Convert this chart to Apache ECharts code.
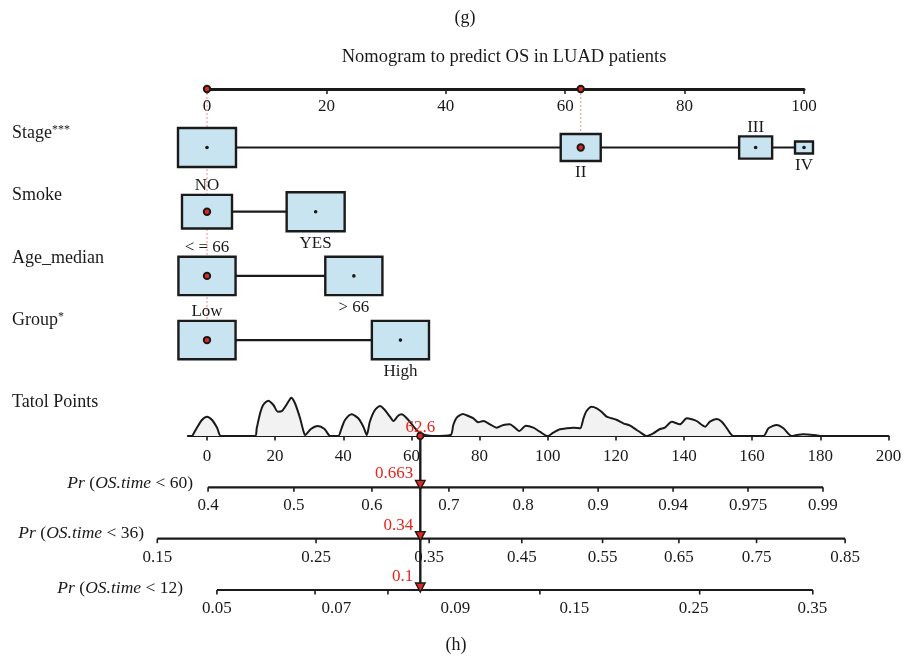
<!DOCTYPE html>
<html>
<head>
<meta charset="utf-8">
<script src="https://cdn.jsdelivr.net/npm/echarts@6.0.0/dist/echarts.min.js"></script>
<style>
html,body{margin:0;padding:0;background:#ffffff;}
#chart{width:905px;height:663px;}
</style>
</head>
<body>
<div id="chart"></div>
<script>
// ---------------- data ----------------
const pointTicks = [0, 20, 40, 60, 80, 100];

const stageLevels = ['I', 'II', 'III', 'IV'];
const stagePoints = [0, 62.6, 91.9, 100];
const stageFreq = [1, 0.476, 0.324, 0.096];

const smokeLevels = ['NO', 'YES'];
const smokePoints = [0, 18.2];
const smokeFreq = [0.743, 1];

const ageLevels = ['< = 66', '> 66'];
const agePoints = [0, 24.6];
const ageFreq = [0.97, 0.97];

const groupLevels = ['Low', 'High'];
const groupPoints = [0, 32.4];
const groupFreq = [0.97, 0.97];

const selectedLevels = ['II', 'NO', '< = 66', 'Low'];
const unlabeledLevels = ['I'];

const totalTicks = [0, 20, 40, 60, 80, 100, 120, 140, 160, 180, 200];
const densityPoints = [-4.3, -3, -1.5, 0, 1.5, 3, 4.1, 14.1, 14.6, 15.6, 16.5, 18, 19.5, 20.8, 22.0, 24.2, 24.7, 25.8, 27.3, 28.3, 28.8,
  30.5, 32.5, 34.5, 36.2, 38.5, 39.5, 40.5, 42.5, 44.4, 45.9, 46.9, 47.8, 49.3, 50.8, 52.2, 53.7, 54.7, 56.1, 57.1, 59.1, 61.1, 62.5, 64, 66.3,
  71.5, 72.3, 73.3, 75.1, 76.7, 78.2, 79.6, 81.1, 83.1, 85.0, 87.0, 88.9, 90.4, 91.7, 93.6, 95.8, 97.7, 100,
  101.6, 103.6, 105.6, 107.5, 109.5, 110.5, 111.4, 112.9, 114.4, 115.8, 117.3, 118.8, 120.3, 122.2, 124.2, 126.1, 127.6, 128.9,
  131, 133, 134.4, 136.4, 138.8, 140.8, 142.3, 143.7, 146.2, 147.6, 149.6, 151.1, 152.6, 154.5,
  163.3, 164.8, 167.2, 169.2, 171.6, 173.1, 175, 178, 179.9];
const densityHeights = [0, 8, 16, 19.3, 16, 8, 0, 0, 7.7, 22.7, 31, 35.3, 31, 24.3, 25, 36, 38.3, 33, 18, 5, 1,
  7, 10, 7, 0, 0, 7.7, 16, 21.7, 17.7, 9.3, 1, 14.3, 26, 30, 26, 19.3, 15, 20.3, 21.7, 16, 7.7, 3, 1, 0,
  1, 11, 18.3, 22, 20, 17.7, 13.7, 15, 11.7, 8.3, 11, 11.7, 8.3, 5, 10.3, 8.3, 4.3, 0,
  3.3, 6.7, 7.7, 8.3, 7.7, 17.7, 25, 29.3, 27.7, 24.3, 19.3, 17.7, 16, 12.7, 10.3, 6, 2.7, 0,
  2.7, 7, 8.3, 14.3, 11.7, 17.7, 16.7, 15, 9.3, 14.3, 17, 14.3, 7.7, 0,
  0, 7.7, 11, 7.7, 0, 1, 1.7, 1, 0];

const totalScore = 62.6;

const pr60Labels = ['0.4', '0.5', '0.6', '0.7', '0.8', '0.9', '0.94', '0.975', '0.99'];
const pr60Points = [0.3, 25.5, 48.4, 71.0, 92.8, 114.8, 136.8, 158.8, 180.8];

const pr36Labels = ['0.15', '0.25', '0.35', '0.45', '0.55', '0.65', '0.75', '0.85'];
const pr36Points = [-14.6, 32.0, 65.2, 92.4, 116.1, 138.5, 161.3, 187.3];

const pr12Labels = ['0.05', '0.07', '0.09', '0.15', '0.25', '0.35'];
const pr12TickPoints = [2.9, 31.7, 53.1, 97.7, 144.6, 177.8];
const pr12LabelPoints = [2.9, 38.0, 72.9, 107.8, 142.8, 177.7];

const predictedLabels = ['0.663', '0.34', '0.1'];

// ---------------- styling constants ----------------
const FF = '"Liberation Serif", "DejaVu Serif", serif';
const INK = '#1a1a1a';
const RED = '#e3271f';
const BOX_FILL = '#c8e4f0';
const BOX_W = 58, BOX_H = 39;
const A_YMIN = -0.911, A_YMAX = 3.6;

function font(sz, style) { return (style || '') + ' ' + sz + 'px ' + FF; }

const series = [];

// ---------- category rows (grid 0) ----------
function catSeries(levels, points, freq, row) {
  series.push({
    type: 'line', xAxisIndex: 0, yAxisIndex: 0, silent: true, z: 2,
    data: [[Math.min(...points), row], [Math.max(...points), row]],
    symbol: 'none', lineStyle: { color: INK, width: 2.2 }
  });
  series.push({
    type: 'custom', xAxisIndex: 0, yAxisIndex: 0, silent: true, z: 3,
    data: points.map(p => [p, row]),
    renderItem(params, api) {
      const i = params.dataIndex;
      const c = api.coord([api.value(0), api.value(1)]);
      const s = Math.sqrt(freq[i]);
      const w = BOX_W * s, h = BOX_H * s;
      const ch = [{
        type: 'rect', shape: { x: c[0] - w / 2, y: c[1] - h / 2, width: w, height: h },
        style: { fill: BOX_FILL, stroke: INK, lineWidth: 2.4 }
      }];
      if (selectedLevels.includes(levels[i])) {
        ch.push({ type: 'circle', shape: { cx: c[0], cy: c[1], r: 3.2 }, style: { fill: RED, stroke: INK, lineWidth: 2 }, z2: 5 });
      } else {
        ch.push({ type: 'circle', shape: { cx: c[0], cy: c[1], r: 1.8 }, style: { fill: INK } });
      }
      if (!unlabeledLevels.includes(levels[i])) {
        const above = i % 2 === 0;
        ch.push({
          type: 'text', x: c[0], y: above ? c[1] - h / 2 - 9 : c[1] + h / 2 + 12,
          style: { text: levels[i], align: 'center', verticalAlign: 'middle', font: font(17), fill: INK }
        });
      }
      return { type: 'group', children: ch };
    }
  });
}
catSeries(stageLevels, stagePoints, stageFreq, 0);
catSeries(smokeLevels, smokePoints, smokeFreq, 1);
catSeries(ageLevels, agePoints, ageFreq, 2);
catSeries(groupLevels, groupPoints, groupFreq, 3);

// selected points on top axis with dotted guide lines
const allLevels = [stageLevels, smokeLevels, ageLevels, groupLevels];
const allPoints = [stagePoints, smokePoints, agePoints, groupPoints];
const guide = {};
allLevels.forEach((lv, r) => {
  lv.forEach((l, i) => {
    if (selectedLevels.includes(l)) {
      const p = allPoints[r][i];
      guide[p] = Math.max(guide[p] === undefined ? -1 : guide[p], r);
    }
  });
});
series.push({
  type: 'custom', xAxisIndex: 0, yAxisIndex: 0, silent: true, z: 1,
  data: Object.keys(guide).map(k => [Number(k), guide[k]]),
  renderItem(params, api) {
    const t = api.coord([api.value(0), A_YMIN]);
    const b = api.coord([api.value(0), api.value(1)]);
    return { type: 'line', shape: { x1: t[0], y1: t[1], x2: b[0], y2: b[1] }, style: { stroke: '#f3a3a3', lineWidth: 1.2, lineDash: [2, 2] } };
  }
});
series.push({
  type: 'custom', xAxisIndex: 0, yAxisIndex: 0, silent: true, z: 6,
  data: Object.keys(guide).map(k => [Number(k), A_YMIN]),
  renderItem(params, api) {
    const t = api.coord([api.value(0), api.value(1)]);
    return { type: 'circle', shape: { cx: t[0], cy: t[1], r: 3.2 }, style: { fill: RED, stroke: INK, lineWidth: 2 } };
  }
});

// ---------- density (grid 1) ----------
series.push({
  type: 'line', xAxisIndex: 1, yAxisIndex: 1, silent: true, z: 2,
  data: densityPoints.map((p, i) => [p, densityHeights[i]]),
  smooth: 0.25, symbol: 'none',
  lineStyle: { color: INK, width: 2 },
  areaStyle: { color: '#f2f2f2', opacity: 1 }
});

// ---------- probability axes (grid 2) ----------
function probAxis(tickPts, labelPts, labels, row) {
  series.push({
    type: 'line', xAxisIndex: 2, yAxisIndex: 2, silent: true, z: 2,
    data: [[tickPts[0], row], [tickPts[tickPts.length - 1], row]],
    symbol: 'none', lineStyle: { color: INK, width: 2.2 }
  });
  series.push({
    type: 'custom', xAxisIndex: 2, yAxisIndex: 2, silent: true, z: 2,
    data: tickPts.map((p, i) => [p, row, labelPts[i]]),
    renderItem(params, api) {
      const i = params.dataIndex;
      const c = api.coord([api.value(0), api.value(1)]);
      const lc = api.coord([api.value(2), api.value(1)]);
      return {
        type: 'group', children: [
          { type: 'line', shape: { x1: c[0], y1: c[1], x2: c[0], y2: c[1] + 4.5 }, style: { stroke: INK, lineWidth: 1.6 } },
          { type: 'text', x: lc[0], y: lc[1] + 18.5, style: { text: labels[i], align: 'center', verticalAlign: 'middle', font: font(17), fill: INK } }
        ]
      };
    }
  });
}
probAxis(pr60Points, pr60Points, pr60Labels, 0);
probAxis(pr36Points, pr36Points, pr36Labels, 1);
probAxis(pr12TickPoints, pr12LabelPoints, pr12Labels, 2);

// prediction marker
series.push({
  type: 'custom', xAxisIndex: 2, yAxisIndex: 2, silent: true, z: 8,
  data: [[totalScore, -1]],
  renderItem(params, api) {
    const v = api.value(0);
    const t = api.coord([v, -1]);
    const b = api.coord([v, 2]);
    const ch = [
      { type: 'line', shape: { x1: t[0], y1: t[1], x2: b[0], y2: b[1] - 2 }, style: { stroke: INK, lineWidth: 2.4 } },
      { type: 'circle', shape: { cx: t[0], cy: t[1], r: 3.2 }, style: { fill: RED, stroke: INK, lineWidth: 1.6 } },
      { type: 'text', x: t[0], y: t[1] - 8, style: { text: String(v), align: 'center', verticalAlign: 'middle', font: font(17), fill: RED } }
    ];
    for (let r = 0; r < 3; r++) {
      const p = api.coord([v, r]);
      ch.push({ type: 'polygon', shape: { points: [[p[0] - 4.8, p[1] - 7], [p[0] + 4.8, p[1] - 7], [p[0], p[1] + 2]] }, style: { fill: RED, stroke: INK, lineWidth: 1.4 } });
      ch.push({ type: 'text', x: p[0] - 7, y: p[1] - 13.5, style: { text: predictedLabels[r], align: 'right', verticalAlign: 'middle', font: font(17), fill: RED } });
    }
    return { type: 'group', children: ch };
  }
});

// ---------- option ----------
const rich = {
  a: { fontFamily: FF, fontSize: 18, color: INK },
  s: { fontFamily: FF, fontSize: 12, color: '#666', verticalAlign: 'top', padding: [0, 0, 6, 0] },
  i: { fontFamily: FF, fontSize: 17.5, fontStyle: 'italic', color: INK },
  n: { fontFamily: FF, fontSize: 17.5, color: INK }
};
function txt(x, y, text, align, size) {
  return { type: 'text', x, y, silent: true, style: { text, align: align || 'left', verticalAlign: 'middle', font: font(size || 18), fill: INK, rich } };
}

const option = {
  animation: false,
  backgroundColor: '#ffffff',
  grid: [
    { left: 207, right: 101, top: 89, height: 289.6 },
    { left: 187.9, right: 16.6, top: 396, height: 40 },
    { left: 138.9, right: 16.6, top: 436, height: 154 }
  ],
  xAxis: [
    {
      gridIndex: 0, type: 'value', position: 'top', min: 0, max: 100, interval: 20,
      axisLine: { onZero: false, lineStyle: { color: INK, width: 3 } },
      axisTick: { inside: true, length: 5, lineStyle: { color: INK, width: 1.5 } },
      axisLabel: { inside: true, margin: 9, color: INK, fontFamily: FF, fontSize: 17, customValues: pointTicks },
      splitLine: { show: false }
    },
    {
      gridIndex: 1, type: 'value', position: 'bottom', min: -5.6, max: 200,
      axisLine: { onZero: false, lineStyle: { color: INK, width: 2.2 } },
      axisTick: { length: 4.5, customValues: totalTicks, lineStyle: { color: INK, width: 1.6 } },
      axisLabel: { margin: 12, color: INK, fontFamily: FF, fontSize: 17, customValues: totalTicks },
      splitLine: { show: false }
    },
    { gridIndex: 2, type: 'value', min: -20, max: 200, show: false }
  ],
  yAxis: [
    { gridIndex: 0, type: 'value', min: A_YMIN, max: A_YMAX, inverse: true, show: false },
    { gridIndex: 1, type: 'value', min: 0, max: 40, show: false },
    { gridIndex: 2, type: 'value', min: -1, max: 2, inverse: true, show: false }
  ],
  graphic: [
    txt(465, 18, '(g)', 'center'),
    txt(504, 57, 'Nomogram to predict OS in LUAD patients', 'center', 18.5),
    txt(456, 645, '(h)', 'center'),
    txt(12, 133, '{a|Stage}{s|***}'),
    txt(12, 195, 'Smoke'),
    txt(12, 258, 'Age_median'),
    txt(12, 320, '{a|Group}{s|*}'),
    txt(12, 402, 'Tatol Points'),
    txt(193, 483, '{i|Pr} {n|(}{i|OS.time}{n| < 60)}', 'right'),
    txt(144, 533, '{i|Pr} {n|(}{i|OS.time}{n| < 36)}', 'right'),
    txt(183, 588, '{i|Pr} {n|(}{i|OS.time}{n| < 12)}', 'right')
  ],
  series
};

const chart = echarts.init(document.getElementById('chart'));
chart.setOption(option);
</script>
</body>
</html>
